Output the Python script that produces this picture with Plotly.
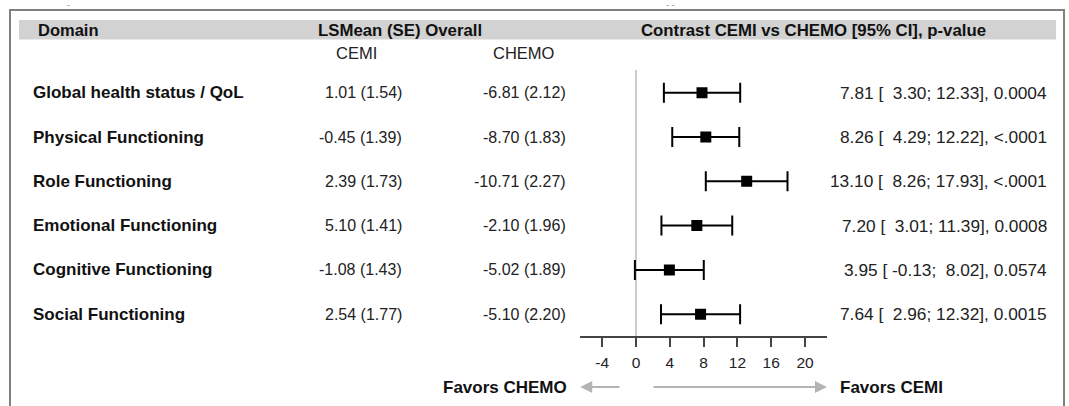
import plotly.graph_objects as go

W, H = 1069, 406

domains = ["Global health status / QoL", "Physical Functioning", "Role Functioning",
           "Emotional Functioning", "Cognitive Functioning", "Social Functioning"]
cemi = ["1.01 (1.54)", "-0.45 (1.39)", "2.39 (1.73)", "5.10 (1.41)", "-1.08 (1.43)", "2.54 (1.77)"]
chemo = ["-6.81 (2.12)", "-8.70 (1.83)", "-10.71 (2.27)", "-2.10 (1.96)", "-5.02 (1.89)", "-5.10 (2.20)"]
est = [7.81, 8.26, 13.10, 7.20, 3.95, 7.64]
lo = [3.30, 4.29, 8.26, 3.01, -0.13, 2.96]
hi = [12.33, 12.22, 17.93, 11.39, 8.02, 12.32]
pvals = ["0.0004", "<.0001", "<.0001", "0.0008", "0.0574", "0.0015"]
tick_vals = [-4, 0, 4, 8, 12, 16, 20]
tick_text = ["-4", "0", "4", "8", "12", "16", "20"]

FONT = "Liberation Sans, Arial, sans-serif"

def px_x(p):
    return p / W

def px_y(p):
    return 1 - p / H

# row positions
ypos = [-i for i in range(len(domains))]

# x-axis mapping: 0 at px 636, 8.45 px per unit
X0, PPU = 636.0, 8.45
XMIN, XMAX = -6.6, 22.6
# y mapping: row i at px 92.7 + 44.3*i, axis line at px 336
R0, RS, AXY = 92.7, 44.3, 336.0
ytop = R0 / RS
ybot = -(AXY - R0) / RS

def pad(v, w):
    s = f"{v:.2f}"
    return " " * (w - len(s)) + s

def fmt_ci(e, l, h, p):
    s = f"{e:.2f} [ {pad(l, 5)}; {pad(h, 5)}], {p}"
    return s.replace(" ", "\u00a0").replace("<", "&lt;")

fig = go.Figure()

fig.add_trace(go.Scatter(
    x=est, y=ypos, mode="markers",
    marker=dict(symbol="square", size=11, color="black"),
    error_x=dict(type="data", symmetric=False,
                 array=[h - e for h, e in zip(hi, est)],
                 arrayminus=[e - l for e, l in zip(est, lo)],
                 color="black", thickness=2, width=10),
    showlegend=False, hoverinfo="skip",
))

shapes = [
    # outer frame
    dict(type="rect", xref="paper", yref="paper", x0=px_x(10), x1=px_x(1064),
         y0=px_y(420), y1=px_y(10), line=dict(color="#808080", width=2), layer="below"),
    # header band
    dict(type="rect", xref="paper", yref="paper", x0=px_x(19), x1=px_x(1056),
         y0=px_y(39.5), y1=px_y(20), line=dict(width=0), fillcolor="#d2d2d2", layer="below"),
    # zero line
    dict(type="line", xref="x", yref="y", x0=0, x1=0, y0=-(70 - R0) / RS, y1=ybot,
         line=dict(color="#a8a8a8", width=1.2), layer="below"),
]

ann = []
def txt(text, x, y, size, bold=False, xanchor="left", yref="paper", color="#111"):
    ann.append(dict(text=f"<b>{text}</b>" if bold else text, x=x, y=y, xref="paper", yref=yref,
                    xanchor=xanchor, yanchor="middle", showarrow=False,
                    font=dict(family=FONT, size=size, color=color)))

# small artefact marks above the frame
txt("-", px_x(68), px_y(5), 9, color="#888", xanchor="center")
txt("- -", px_x(670), px_y(5), 9, color="#888", xanchor="center")

# headers
txt("Domain", px_x(36), px_y(30), 16.5, bold=True)
txt("LSMean (SE) Overall", px_x(400), px_y(30), 16.8, bold=True, xanchor="center")
txt("Contrast CEMI vs CHEMO [95% CI], p-value", px_x(639), px_y(30), 16.8, bold=True)
txt("CEMI", px_x(357), px_y(53), 16.5, xanchor="center", color="#222")
txt("CHEMO", px_x(524), px_y(53), 16.5, xanchor="center", color="#222")

for i, d in enumerate(domains):
    txt(d, px_x(31), ypos[i], 17, bold=True, yref="y")
    txt(cemi[i], px_x(404), ypos[i], 16, xanchor="right", yref="y", color="#222")
    txt(chemo[i], px_x(568), ypos[i], 16, xanchor="right", yref="y", color="#222")
    txt(fmt_ci(est[i], lo[i], hi[i], pvals[i]), px_x(1049), ypos[i], 17.3, xanchor="right",
        yref="y", color="#222")

txt("Favors CHEMO", px_x(569), px_y(387), 17, bold=True, xanchor="right")
txt("Favors CEMI", px_x(838), px_y(387), 17, bold=True)

# arrows
for tail, head in [(-1.8, XMIN), (1.9, XMAX)]:
    ann.append(dict(x=head, y=px_y(387), xref="x", yref="paper", ax=tail, ay=0,
                    axref="x", ayref="pixel", showarrow=True, arrowhead=2, arrowsize=1.2,
                    arrowwidth=2, arrowcolor="#b4b4b4", text=""))

fig.update_layout(
    width=W, height=H, margin=dict(l=0, r=0, t=0, b=0),
    paper_bgcolor="white", plot_bgcolor="rgba(0,0,0,0)",
    shapes=shapes, annotations=ann,
    xaxis=dict(domain=[px_x(X0 + XMIN * PPU), px_x(X0 + XMAX * PPU)], range=[XMIN, XMAX],
               showline=True, linecolor="#444", linewidth=1.5, ticks="outside", ticklen=9,
               tickwidth=1.5, tickcolor="#444", tickvals=tick_vals, ticktext=tick_text,
               tickfont=dict(family=FONT, size=15.5, color="#222"), showgrid=False,
               zeroline=False, ticklabelstandoff=3, fixedrange=True),
    yaxis=dict(domain=[1 - AXY / H, 1], range=[ybot, ytop], visible=False,
               showgrid=False, zeroline=False, fixedrange=True),
)

fig.write_html("out.html")
